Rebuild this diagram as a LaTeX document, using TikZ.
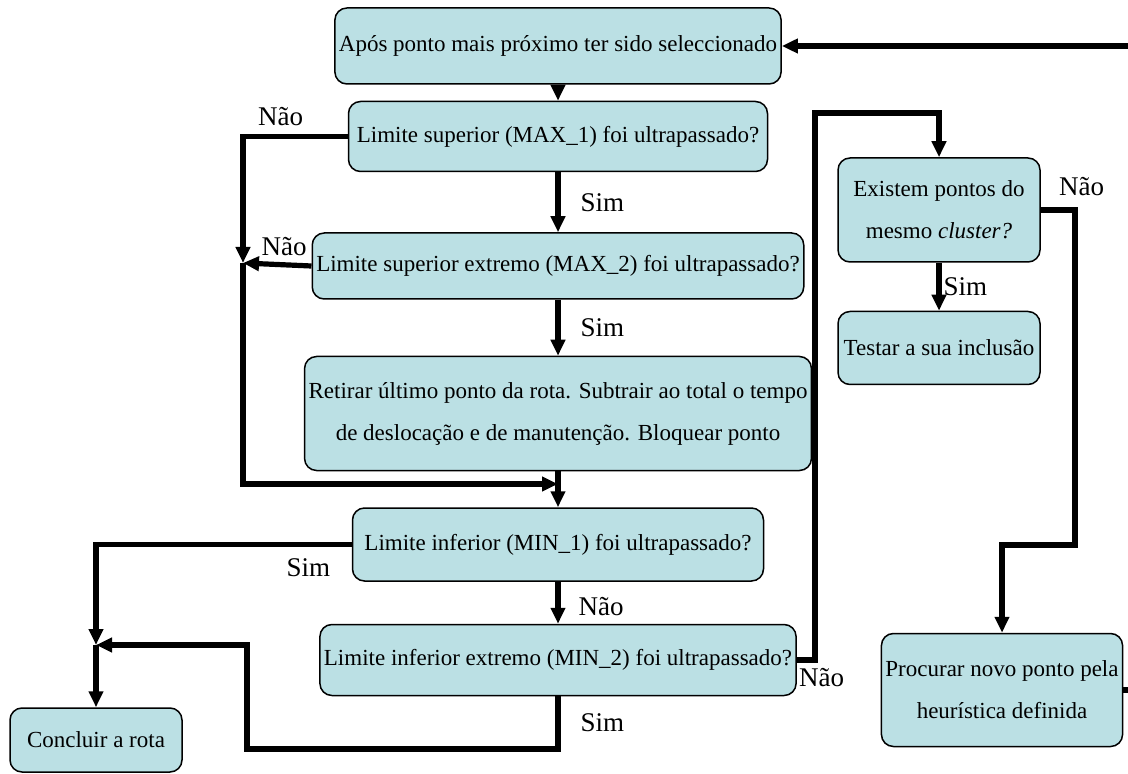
\documentclass[tikz,border=0pt]{standalone}
\usepackage{fontspec}
\setmainfont{Liberation Serif}
\usetikzlibrary{arrows.meta,positioning}
\definecolor{boxcyan}{RGB}{187,224,228}

\begin{document}
\begin{tikzpicture}[
  x=0.5pt, y=-0.5pt,
  font=\fontsize{11.5}{21}\selectfont,
  >={Triangle[length=8pt,width=7pt]},
  flowbox/.style={draw, line width=0.75pt, rounded corners=6pt, fill=boxcyan, align=center, inner sep=2pt},
  arr/.style={->, line width=2.6pt},
  line/.style={line width=2.6pt},
  lbl/.style={font=\fontsize{13.5}{16}\selectfont, inner sep=0pt}
]
\useasboundingbox (0,0) rectangle (1128,774);
% main column
\node[flowbox, minimum width=217pt, minimum height=38pt] (p0) at (558,46) {Após ponto mais próximo ter sido seleccionado};
\node[flowbox, minimum width=209.5pt, minimum height=35pt, below=8pt of p0] (p1) {Limite superior (MAX\_1) foi ultrapassado?};
\node[flowbox, minimum width=233pt, minimum height=33pt, below=30pt of p1] (p2) {Limite superior extremo (MAX\_2) foi ultrapassado?};
\node[flowbox, minimum width=244pt, minimum height=57pt, below=28pt of p2] (p3) {Retirar último ponto da rota. Subtrair ao total o tempo\\de deslocação e de manutenção. Bloquear ponto};
\node[flowbox, minimum width=205.5pt, minimum height=36.5pt, below=18pt of p3] (p4) {Limite inferior (MIN\_1) foi ultrapassado?};
\node[flowbox, minimum width=232pt, minimum height=35.5pt, below=21pt of p4] (p5) {Limite inferior extremo (MIN\_2) foi ultrapassado?};
\node[flowbox, minimum width=86pt, minimum height=32pt] (p6) at (96,740) {Concluir a rota};
% right column
\node[flowbox, minimum width=101pt, minimum height=52pt] (p7) at (939,210) {Existem pontos do\\mesmo \textit{cluster?}};
\node[flowbox, minimum width=101pt, minimum height=36.5pt, below=24pt of p7] (p8) {Testar a sua inclusão};
\node[flowbox, minimum width=120pt, minimum height=56.5pt] (p9) at (1002,690) {Procurar novo ponto pela\\heurística definida};

\coordinate (j1) at (243,263);
\coordinate (j2) at (558,484);
\coordinate (j3) at (96,645);
\coordinate (k1) at (815,113);
\coordinate (k2) at (1075,545);
\coordinate (e1) at (1140,100);

\draw[arr] (p0) -- (p1);
\draw[arr] (p1) -- node[lbl, right, xshift=10pt] {Sim} (p2);
\draw[arr] (p2) -- node[lbl, right, xshift=10pt] {Sim} (p3);
\draw[arr] (p3) -- (p4);
\draw[arr] (p4) -- node[lbl, right, xshift=9pt, yshift=-2pt] {Não} (p5);
\draw[arr] (p1.west) -| node[lbl, above, pos=0.32, yshift=4pt] {Não} (j1);
\draw[arr] (p2.west) -- node[lbl, above, pos=0.4, yshift=3pt] {Não} (j1);
\draw[arr] (j1) |- (j2);
\draw[arr] (p4.west) -| node[lbl, below, pos=0.085, yshift=-6pt] {Sim} (j3);
\draw[arr] (p5.south) |- node[lbl, right, pos=0.25, xshift=10pt] {Sim} (247,749) |- (j3);
\draw[arr] (j3) -- (p6);
\draw[arr] (p5.east) -| (k1) -| (p7.north);
\node[lbl, below right=4pt and 1pt of p5.east] (n1) {Não};
\draw[arr] (p7) -- node[lbl, right, xshift=1pt] {Sim} (p8);
\draw[arr] (p7.east) -| (k2) -| (p9.north);
\node[lbl, above right=7pt and 9pt of p7.east] (n2) {Não};
\draw[arr] (p9.east) -| (e1) |- (p0.east);
\end{tikzpicture}
\end{document}
